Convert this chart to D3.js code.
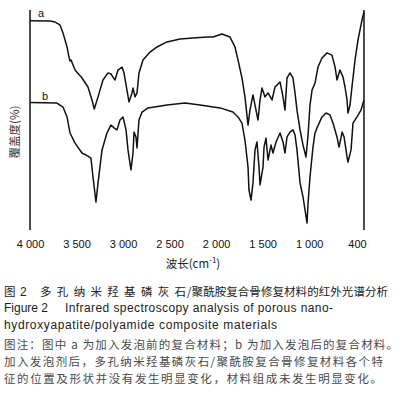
<!DOCTYPE html>
<html><head><meta charset="utf-8">
<script src="https://cdn.jsdelivr.net/npm/d3@7"></script>
<style>body{margin:0;background:#fff}svg{display:block}</style>
</head><body>
<svg id="c" width="409" height="413"></svg>
<script>
// wavenumber (cm-1) and relative transmittance values
const waveA = [4000,3785,3731,3678,3645,3602,3581,3570,3559,3516,3441,3377,3334,3309,3269,3216,3162,3130,3108,3087,3054,3011,2990,2958,2936,2904,2893,2872,2850,2829,2786,2710,2635,2528,2388,2248,2098,2033,1937,1851,1797,1765,1722,1690,1657,1636,1604,1582,1550,1528,1507,1475,1442,1399,1367,1313,1281,1260,1238,1206,1174,1152,1131,1098,1066,1034,1012,991,969,937,905,862,808,755,722,701,669,636,615,593,583,561,540,507,475,432,411];
const transA = [95.1,95.0,94.5,93.2,89.5,83.2,78.6,76.8,77.3,72.7,69.1,65.0,59.1,55.0,60.5,68.2,71.4,70.9,69.5,68.2,72.7,74.1,71.4,63.6,58.2,62.3,64.5,60.5,62.3,71.4,77.3,80.9,83.2,85.5,86.8,87.3,87.7,87.7,89.1,87.7,83.2,77.3,69.1,60.5,47.7,54.5,61.4,56.8,50.0,59.1,64.5,60.5,62.3,59.1,65.0,67.3,60.5,54.5,69.1,71.4,69.1,62.3,54.5,45.5,38.6,33.2,43.2,56.8,63.6,66.8,74.1,78.2,80.5,79.5,74.1,68.2,72.7,69.5,65.0,59.1,53.2,56.8,65.0,77.3,86.4,95.5,99.1];
const waveB = [4000,3710,3645,3602,3570,3516,3441,3377,3345,3323,3291,3269,3226,3173,3130,3097,3065,3033,3001,2968,2947,2915,2893,2882,2861,2850,2829,2796,2732,2528,2334,2173,1958,1819,1765,1722,1690,1657,1647,1625,1604,1582,1561,1539,1528,1496,1485,1464,1442,1410,1389,1356,1313,1281,1260,1238,1206,1174,1152,1131,1098,1066,1023,1012,991,959,937,916,862,819,776,744,701,679,646,625,593,583,550,529,486,443,411];
const transB = [57.9,57.7,55.9,51.4,44.1,39.5,35.0,33.6,32.7,24.1,12.7,21.4,36.4,44.1,47.7,46.4,45.5,50.0,51.4,45.5,36.4,27.3,35.0,44.5,42.3,37.3,50.0,53.6,55.5,56.8,57.7,56.8,55.5,53.6,51.4,48.6,40.9,28.6,18.2,13.6,21.4,36.4,40.0,28.6,20.5,28.6,37.7,41.8,31.8,38.6,35.0,40.0,44.1,40.0,35.0,42.3,44.5,45.5,43.2,36.4,21.4,15.0,3.2,12.3,24.1,37.7,44.1,46.4,51.4,53.2,52.3,48.6,42.3,37.7,44.5,42.3,33.2,30.9,36.4,48.6,51.4,54.5,59.1];
const tickValues = [4000,3500,3000,2500,2000,1500,1000,400];
const tickLabels = ["4 000","3 500","3 000","2 500","2 000","1 500","1 000","400"];
const seriesLabels = ["a","b"];

const svg = d3.select("#c");
const x = d3.scaleLinear().domain([4000,400]).range([30,365]);
const y = d3.scaleLinear().domain([0,100]).range([230,10]);

const line = d3.line().x(d=>x(d[0])).y(d=>y(d[1])).curve(d3.curveLinear);
const dataA = waveA.map((w,i)=>[w,transA[i]]);
const dataB = waveB.map((w,i)=>[w,transB[i]]);
[dataA,dataB].forEach(d=>{
  svg.append("path").attr("d",line(d)).attr("fill","none")
    .attr("stroke","#111").attr("stroke-width",1.5).attr("stroke-linejoin","round");
});

// frame lines
svg.append("line").attr("x1",x(4000)).attr("x2",x(4000)).attr("y1",y(100)).attr("y2",y(0))
  .attr("stroke","#111").attr("stroke-width",1.5);
svg.append("line").attr("x1",x(411)).attr("x2",x(411)).attr("y1",y(100)).attr("y2",y(0))
  .attr("stroke","#111").attr("stroke-width",1.5);

// tick labels
const xAxis = d3.axisBottom(x).tickValues(tickValues).tickSize(0)
  .tickFormat((d,i)=>tickLabels[i]);
const gx = svg.append("g").attr("transform","translate(0,230)").call(xAxis);
gx.select(".domain").remove();
gx.selectAll("text").attr("font-family","Liberation Sans, Arial, sans-serif")
  .attr("font-size",11).attr("fill","#111").attr("dy",null).attr("y",18)
  .attr("dx",(d)=> d===400 ? -8 : 0);

// series labels
svg.append("text").attr("x",38).attr("y",16.5).text(seriesLabels[0])
  .attr("font-family","Liberation Sans, Arial, sans-serif").attr("font-size",11).attr("fill","#111");
svg.append("text").attr("x",42).attr("y",99.5).text(seriesLabels[1])
  .attr("font-family","Liberation Sans, Arial, sans-serif").attr("font-size",11).attr("fill","#111");

// y title
svg.append("text").attr("transform","translate(19,132) rotate(-90)").attr("text-anchor","middle")
  .attr("font-family","Noto Sans CJK SC, sans-serif").attr("font-size",11.5).attr("fill","#333")
  .text("覆盖度(%)");

// x title
const xt = svg.append("text").attr("x",193).attr("y",268).attr("text-anchor","middle")
  .attr("font-family","Noto Sans CJK SC, Liberation Sans, sans-serif").attr("font-size",11.5).attr("fill","#222");
xt.append("tspan").text("波长(cm");
xt.append("tspan").attr("dy",-5).attr("font-size",8).text("-1");
xt.append("tspan").attr("dy",5).text(")");

// caption
const cjk = "Noto Sans CJK SC, sans-serif";
const lat = "Liberation Sans, Arial, sans-serif";
function txt(xp, yp, s, fam, size, fill, len){
  const t = svg.append("text").attr("x",xp).attr("y",yp).attr("font-family",fam)
    .attr("font-size",size).attr("fill",fill).text(s);
  if(len) t.attr("textLength",len).attr("lengthAdjust","spacing");
  return t;
}
txt(4,296,"图",cjk,11.5,"#222");
txt(20,296,"2",lat,12,"#222");
txt(40,296,"多孔纳米羟基磷灰石",cjk,11.5,"#222",146);
txt(187,296,"/聚酰胺复合骨修复材料的红外光谱分析",cjk,11.5,"#222",201);
txt(4,312,"Figure 2",lat,12,"#222");
txt(65,312,"Infrared spectroscopy analysis of porous nano-",lat,12,"#222",268);
txt(4,329,"hydroxyapatite/polyamide composite materials",lat,12,"#222",273);
txt(4,349,"图注：图中 a 为加入发泡前的复合材料；b 为加入发泡后的复合材料。",cjk,11.5,"#4a4a4a",394);
txt(4,366,"加入发泡剂后，多孔纳米羟基磷灰石/聚酰胺复合骨修复材料各个特",cjk,11.5,"#4a4a4a",379);
txt(4,383,"征的位置及形状并没有发生明显变化，材料组成未发生明显变化。",cjk,11.5,"#4a4a4a",378);
</script>
</body></html>
